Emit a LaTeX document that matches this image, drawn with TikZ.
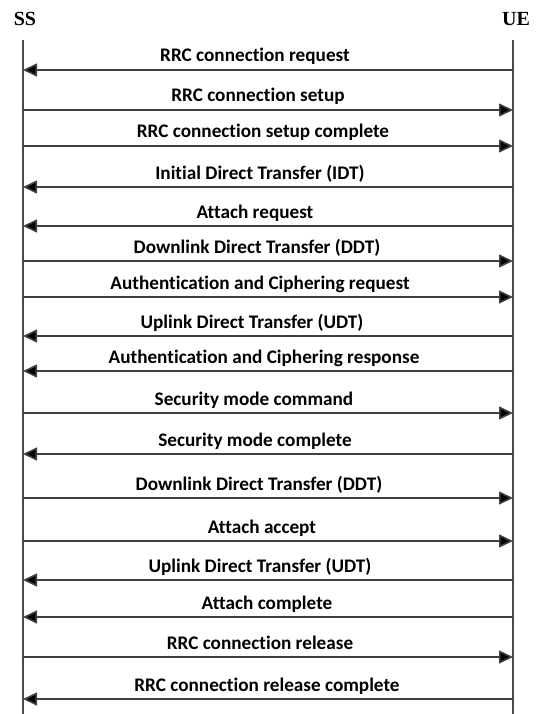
\documentclass[tikz,border=0pt]{standalone}
\usepackage{fontspec}
\setmainfont{Liberation Serif}
\newfontfamily\msgfont[Ligatures={NoCommon}]{Carlito}
\usetikzlibrary{arrows.meta}

\tikzset{
  party/.style={font=\fontsize{20}{22}\selectfont\bfseries, inner sep=0pt},
  lifeline/.style={draw=black!70, line width=1.3pt},
  msg/.style={draw=black!75, line width=1.6pt,
    -{Triangle[length=14pt,width=13pt,fill=black]}},
  msglabel/.style={font=\msgfont\fontsize{19.2}{21}\selectfont\bfseries,
    anchor=base, inner sep=0pt}
}

\begin{document}
\begin{tikzpicture}[x=1pt,y=-1pt]
  \useasboundingbox (0,0) rectangle (535,714);

  % participants
  \node[party] (ss) at (25,19) {SS};
  \node[party] (ue) at (516,19) {UE};
  \coordinate (sstop) at (23,40);
  \coordinate (ssbot) at (23,714);
  \coordinate (uetop) at (513,40);
  \coordinate (uebot) at (513,714);
  \draw[lifeline] (sstop) -- (ssbot);
  \draw[lifeline] (uetop) -- (uebot);

  % messages: line y / label centre x / direction / text
  \foreach \i/\y/\lx/\dir/\txt in {
    1/70/255/l/{RRC connection request},
    2/110/258/r/{RRC connection setup},
    3/146/263/r/{RRC connection setup complete},
    4/187/260/l/{Initial Direct Transfer (IDT)},
    5/226/255/l/{Attach request},
    6/261/257/r/{Downlink Direct Transfer (DDT)},
    7/297/260/r/{Authentication and Ciphering request},
    8/336/252/l/{Uplink Direct Transfer (UDT)},
    9/371/264/l/{Authentication and Ciphering response},
    10/413/254/r/{Security mode command},
    11/454/255/l/{Security mode complete},
    12/498/259/r/{Downlink Direct Transfer (DDT)},
    13/541/262/r/{Attach accept},
    14/580/260/l/{Uplink Direct Transfer (UDT)},
    15/617/267/l/{Attach complete},
    16/657/260/r/{RRC connection release},
    17/699/267/l/{RRC connection release complete}} {
    \coordinate (s\i) at (23,\y);
    \coordinate (u\i) at (513,\y);
    \node[msglabel] (m\i) at (\lx,\y-8) {\txt};
    \if\dir l
      \draw[msg] (u\i) -- (s\i);
    \else
      \draw[msg] (s\i) -- (u\i);
    \fi
  }
\end{tikzpicture}
\end{document}
